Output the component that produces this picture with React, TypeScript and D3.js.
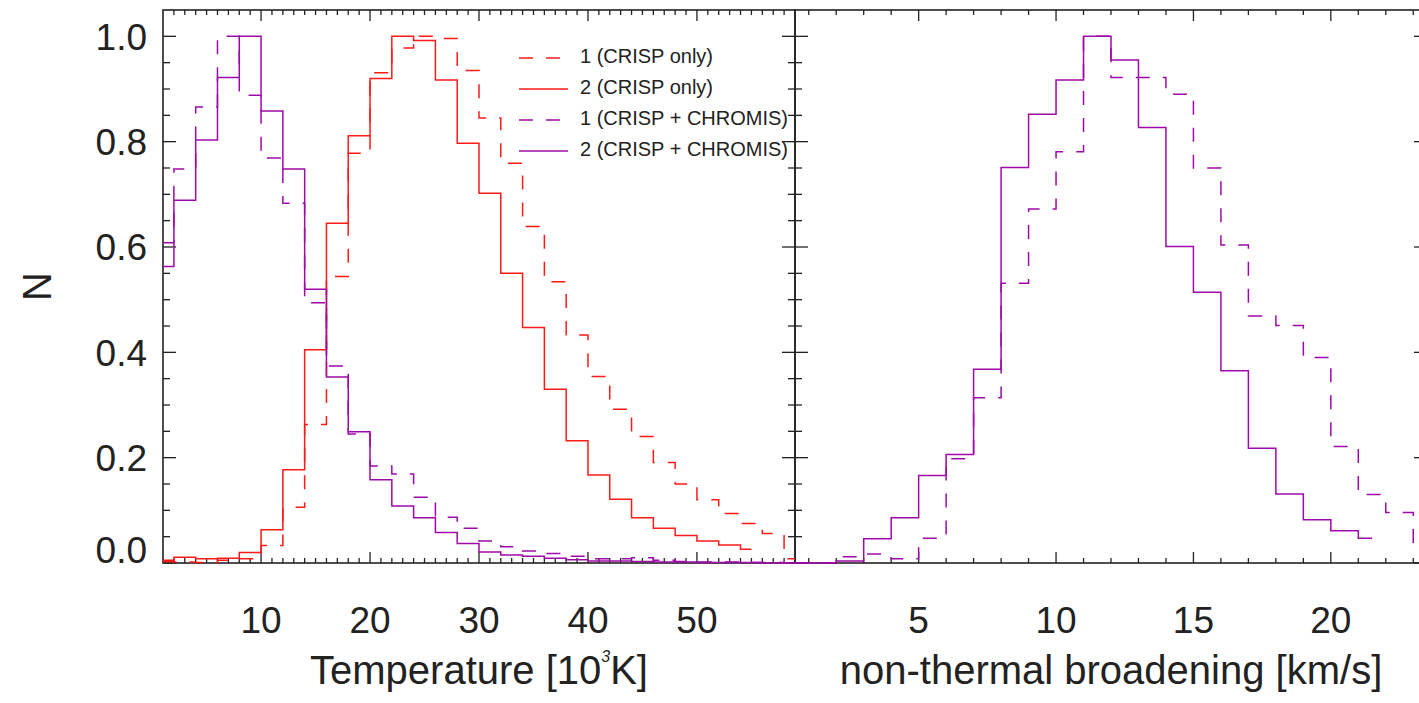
import React from "react";
import * as d3 from "d3";

// ---------- data ----------
const tempBins = [1, 3, 5, 7, 9, 11, 13, 15, 17, 19, 21, 23, 25, 27, 29, 31, 33, 35, 37, 39, 41, 43, 45, 47, 49, 51, 53, 55, 57, 59];
const redDashed = [0.003, 0.002, 0.001, 0.005, 0.008, 0.033, 0.106, 0.263, 0.544, 0.778, 0.931, 0.978, 1.0, 0.996, 0.935, 0.845, 0.759, 0.639, 0.534, 0.433, 0.354, 0.292, 0.24, 0.191, 0.15, 0.12, 0.094, 0.075, 0.056, 0.008];
const redSolid = [0.005, 0.011, 0.008, 0.009, 0.02, 0.063, 0.177, 0.405, 0.645, 0.811, 0.92, 1.0, 0.992, 0.917, 0.797, 0.702, 0.55, 0.447, 0.33, 0.232, 0.167, 0.121, 0.086, 0.066, 0.052, 0.042, 0.034, 0.026];
const purpleDashedT = [0.608, 0.748, 0.866, 1.0, 0.888, 0.769, 0.683, 0.494, 0.374, 0.245, 0.184, 0.169, 0.125, 0.087, 0.066, 0.042, 0.031, 0.023, 0.018, 0.013, 0.008, 0.008, 0.01, 0.005, 0.003, 0.002, 0.002, 0.001, 0.001, 0.0];
const purpleSolidT = [0.563, 0.689, 0.803, 0.922, 1.0, 0.858, 0.748, 0.52, 0.353, 0.249, 0.158, 0.108, 0.086, 0.058, 0.037, 0.021, 0.015, 0.013, 0.009, 0.006, 0.004, 0.004, 0.003, 0.002, 0.002, 0.001, 0.001, 0.001, 0.0, 0.0];

const vntBins = [0.5, 1.5, 2.5, 3.5, 4.5, 5.5, 6.5, 7.5, 8.5, 9.5, 10.5, 11.5, 12.5, 13.5, 14.5, 15.5, 16.5, 17.5, 18.5, 19.5, 20.5, 21.5, 22.5, 23.5];
const purpleDashedV = [0, 0, 0.012, 0.017, 0.008, 0.047, 0.198, 0.314, 0.531, 0.672, 0.781, 1.0, 0.922, 0.922, 0.89, 0.75, 0.604, 0.469, 0.451, 0.39, 0.221, 0.13, 0.096, 0.03];
const purpleSolidV = [0, 0, 0.004, 0.046, 0.086, 0.166, 0.206, 0.368, 0.751, 0.852, 0.917, 1.0, 0.955, 0.827, 0.601, 0.514, 0.365, 0.218, 0.131, 0.082, 0.061, 0.047];

const tempMajor = [10, 20, 30, 40, 50];
const tempMinor = [2, 3, 4, 5, 6, 7, 8, 9, 11, 12, 13, 14, 15, 16, 17, 18, 19, 21, 22, 23, 24, 25, 26, 27, 28, 29, 31, 32, 33, 34, 35, 36, 37, 38, 39, 41, 42, 43, 44, 45, 46, 47, 48, 49, 51, 52, 53, 54, 55, 56, 57, 58];
const vntMajor = [5, 10, 15, 20];
const vntMinor = [1, 2, 3, 4, 6, 7, 8, 9, 11, 12, 13, 14, 16, 17, 18, 19, 21, 22, 23];
const yMajor = [0, 0.2, 0.4, 0.6, 0.8, 1.0];
const yMinor = [0.05, 0.1, 0.15, 0.25, 0.3, 0.35, 0.45, 0.5, 0.55, 0.65, 0.7, 0.75, 0.85, 0.9, 0.95];

const legendLabels = ["1 (CRISP only)", "2 (CRISP only)", "1 (CRISP + CHROMIS)", "2 (CRISP + CHROMIS)"];
const RED = "#ff1a1a";
const PURPLE = "#9e0aa8";

// ---------- layout ----------
const W = 1419, H = 703;
const top = 10, bottom = 563;
const lx0 = 163, lx1 = 795, rx0 = 795, rx1 = 1427;
const FONT = "'Liberation Sans', Arial, Helvetica, sans-serif";
const AX = "#222";

export default function App() {
  const xT = d3.scaleLinear().domain([1, 59]).range([lx0, lx1]);
  const xV = d3.scaleLinear().domain([0.5, 23.5]).range([rx0, rx1]);
  const y = d3.scaleLinear().domain([0, 1.05]).range([bottom, top]);

  const mk = (xs: number[], vals: number[], xsc: d3.ScaleLinear<number, number>) =>
    d3.line<number>().x((_, i) => xsc(xs[i])).y((v) => y(v)).curve(d3.curveStep)(vals) || "";

  const xTicks = (xsc: d3.ScaleLinear<number, number>, major: number[], minor: number[], key: string) => (
    <g key={key} stroke={AX} strokeWidth={1.3}>
      {minor.map((v) => (
        <g key={"m" + v}>
          <line x1={xsc(v)} x2={xsc(v)} y1={top} y2={top + 5} />
          <line x1={xsc(v)} x2={xsc(v)} y1={bottom} y2={bottom - 5} />
        </g>
      ))}
      {major.map((v) => (
        <g key={"M" + v}>
          <line x1={xsc(v)} x2={xsc(v)} y1={top} y2={top + 11} />
          <line x1={xsc(v)} x2={xsc(v)} y1={bottom} y2={bottom - 11} />
        </g>
      ))}
    </g>
  );

  const yTicksAt = (x: number, dir: number, key: string) => (
    <g key={key} stroke={AX} strokeWidth={1.3}>
      {yMinor.map((v) => (
        <line key={"m" + v} x1={x} x2={x + dir * 7} y1={y(v)} y2={y(v)} />
      ))}
      {yMajor.map((v) => (
        <line key={"M" + v} x1={x} x2={x + dir * 13} y1={y(v)} y2={y(v)} />
      ))}
    </g>
  );

  const legendY = (i: number) => 58 + i * 31;

  return (
    <svg
      width={W}
      height={H}
      style={{ position: "absolute", left: 0, top: 0, background: "#fff" }}
      fontFamily={FONT}
    >
      <defs>
        <clipPath id="clipL">
          <rect x={lx0} y={top - 2} width={lx1 - lx0} height={bottom - top + 4} />
        </clipPath>
        <clipPath id="clipR">
          <rect x={rx0} y={top - 2} width={rx1 - rx0} height={bottom - top + 4} />
        </clipPath>
      </defs>
      <rect x={0} y={0} width={W} height={H} fill="#fff" />

      {/* frames */}
      <rect x={lx0} y={top} width={lx1 - lx0} height={bottom - top} fill="none" stroke={AX} strokeWidth={1.6} />
      <rect x={rx0} y={top} width={rx1 - rx0} height={bottom - top} fill="none" stroke={AX} strokeWidth={1.6} />

      {xTicks(xT, tempMajor, tempMinor, "tx")}
      {xTicks(xV, vntMajor, vntMinor, "vx")}
      {yTicksAt(lx0, 1, "y1")}
      {yTicksAt(lx1, -1, "y2")}
      {yTicksAt(rx0, 1, "y3")}
      {yTicksAt(rx1, -1, "y4")}

      {/* data left */}
      <g clipPath="url(#clipL)" fill="none" strokeWidth={1.5}>
        <path d={mk(tempBins, redDashed, xT)} stroke={RED} strokeDasharray="14,13" />
        <path d={mk(tempBins, redSolid, xT)} stroke={RED} />
        <path d={mk(tempBins, purpleDashedT, xT)} stroke={PURPLE} strokeDasharray="14,13" />
        <path d={mk(tempBins, purpleSolidT, xT)} stroke={PURPLE} />
      </g>
      {/* data right */}
      <g clipPath="url(#clipR)" fill="none" strokeWidth={1.5}>
        <path d={mk(vntBins, purpleDashedV, xV)} stroke={PURPLE} strokeDasharray="14,13" />
        <path d={mk(vntBins, purpleSolidV, xV)} stroke={PURPLE} />
      </g>

      {/* y tick labels */}
      <g fill="#222" fontSize={37} textAnchor="end">
        {yMajor.map((v) => (
          <text key={v} x={147} y={Math.min(y(v) + 13.3, bottom)}>
            {d3.format(".1f")(v)}
          </text>
        ))}
      </g>
      {/* x tick labels */}
      <g fill="#222" fontSize={37} textAnchor="middle">
        {tempMajor.map((v) => (
          <text key={"t" + v} x={xT(v)} y={632.5}>
            {v}
          </text>
        ))}
        {vntMajor.map((v) => (
          <text key={"v" + v} x={xV(v)} y={632.5}>
            {v}
          </text>
        ))}
      </g>

      {/* axis titles */}
      <g fill="#222" fontSize={40} textAnchor="middle">
        <text x={(lx0 + lx1) / 2} y={684}>
          Temperature [10
          <tspan fontSize={16} fontStyle="italic" dy={-22}>3</tspan>
          <tspan dy={22}>K]</tspan>
        </text>
        <text x={(rx0 + rx1) / 2} y={684}>non-thermal broadening [km/s]</text>
        <text transform={`translate(51,${(top + bottom) / 2}) rotate(-90)`}>N</text>
      </g>

      {/* legend */}
      <g fontSize={20} fill="#222">
        {legendLabels.map((lab, i) => (
          <g key={lab}>
            <line
              x1={519}
              x2={568}
              y1={legendY(i)}
              y2={legendY(i)}
              stroke={i < 2 ? RED : PURPLE}
              strokeWidth={1.5}
              strokeDasharray={i % 2 === 0 ? "14,13" : undefined}
            />
            <text x={580} y={legendY(i) + 5}>
              {lab}
            </text>
          </g>
        ))}
      </g>
    </svg>
  );
}
